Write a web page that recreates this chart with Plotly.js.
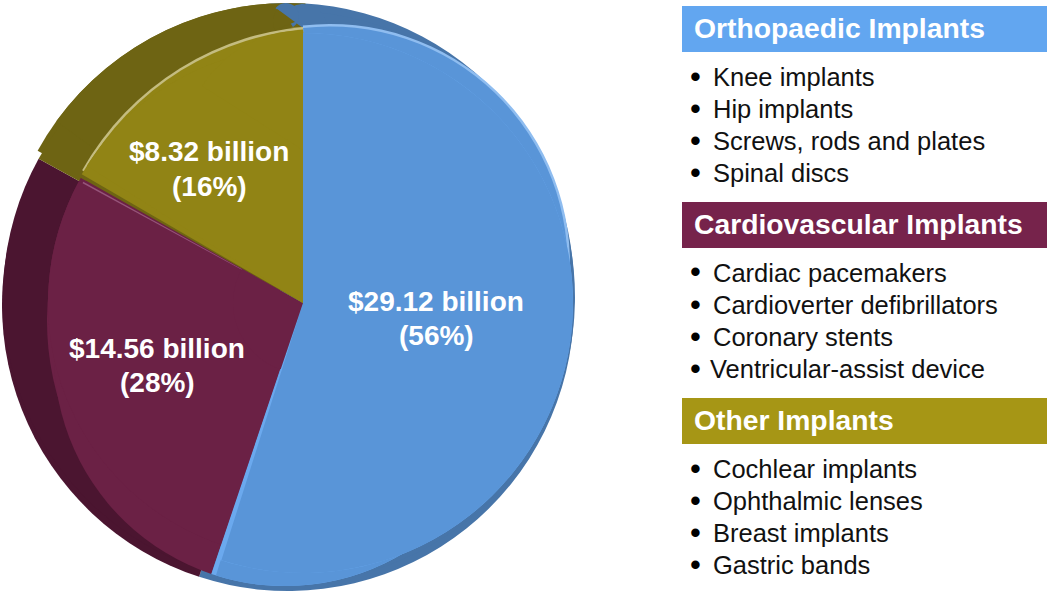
<!DOCTYPE html>
<html>
<head>
<meta charset="utf-8">
<script src="https://cdn.plot.ly/plotly-3.0.1.min.js"></script>
<style>html,body{margin:0;padding:0;background:#fff}</style>
</head>
<body>
<div id="chart" style="width:1050px;height:595px"></div>
<script>
// ---- data ----
const segments = ["Orthopaedic Implants", "Cardiovascular Implants", "Other Implants"];
const values = [29.12, 14.56, 8.32];
const shares = [56, 28, 16];
const orthopaedicItems = ["Knee implants", "Hip implants", "Screws, rods and plates", "Spinal discs"];
const cardiovascularItems = ["Cardiac pacemakers", "Cardioverter defibrillators", "Coronary stents", "Ventricular-assist device"];
const otherItems = ["Cochlear implants", "Ophthalmic lenses", "Breast implants", "Gastric bands"];

// ---- styles ----
const W = 1050, H = 595;
const CLEAR = "rgba(0,0,0,0)";
const face = ["#5995d8", "#6b2145", "#918415"];
const rim = ["#4775a9", "#4b1530", "#6e6413"];
const glow = ["#8fbdf0", "#6b2145", "#c4bc80"];
const sheen = ["#6ba9ee", "#96547a", "#6e6413"];
const headerFill = ["#62a6f0", "#76234b", "#a69615"];
const FONT = "Liberation Sans, Arial, sans-serif";
const only = (arr, ...idx) => arr.map((c, k) => idx.includes(k) ? c : CLEAR);

function pieLayer(cx, cy, r, rotation, colors) {
  return {
    type: "pie", values: values, labels: segments, sort: false, direction: "clockwise",
    rotation: rotation, textinfo: "none", hoverinfo: "skip", showlegend: false,
    domain: {x: [(cx - r) / W, (cx + r) / W], y: [1 - (cy + r) / H, 1 - (cy - r) / H]},
    marker: {colors: colors, line: {color: CLEAR, width: 0}}
  };
}

const traces = [
  // rim: darker silhouette of the bevelled pie
  pieLayer(288, 289, 286, -3.5, only(rim, 0, 2)),
  pieLayer(288, 305, 286, -3.5, only(rim, 0, 1)),
  pieLayer(289, 297, 286, -3.5, rim),
  pieLayer(288, 289, 286, 3.5, only(rim, 2)),
  pieLayer(303, 28, 24, -54, only(rim, 0)),
  pieLayer(286, 16, 13, -54, only(rim, 0)),
  pieLayer(295, 22, 22, -54, only(rim, 2)),
  // purple face
  pieLayer(321, 328, 281, 6, only(face, 1)),
  pieLayer(285, 355, 231, -3, only(face, 1)),
  pieLayer(303, 303, 255, -3, only(face, 1)),
  pieLayer(303, 303, 251, -3.5, only(sheen, 1)),
  pieLayer(303, 303, 255, -3.9, only(face, 1)),
  // gold face, outer part with its light bevel
  pieLayer(330, 310, 284.5, -3, only(glow, 2)),
  pieLayer(330, 310, 282, -3, only(face, 2)),
  // blue face: upper right, lower and main parts
  pieLayer(330, 264, 240, -6.5, only(glow, 0)),
  pieLayer(330, 264, 237.5, -6.5, only(face, 0)),
  pieLayer(285, 355, 231, -3, only(sheen, 0)),
  pieLayer(285, 355, 231, -4.2, only(face, 0)),
  pieLayer(303, 303, 270, -3, only(sheen, 0)),
  pieLayer(303, 303, 270, -4, only(face, 0)),
  // purple centre restored after the blue overlap
  pieLayer(303, 303, 70, -3, only(face, 1)),
  // gold face, inner part over the overlaps
  pieLayer(303, 303, 255, -3, only(sheen, 2)),
  pieLayer(303, 303, 256, -2.2, only(face, 2)),
  pieLayer(303, 303, 256, 0, only(face, 2)),
  pieLayer(303, 150, 119.5, 0, only(face, 2))
];

// ---- annotations and header bars ----
const px = x => x / W;
const py = y => 1 - y / H;
const annotations = [];
const shapes = [];
function addText(text, x, y, size, color, bold, anchor) {
  annotations.push({
    text: text, x: px(x), y: py(y), xref: "paper", yref: "paper", showarrow: false,
    xanchor: anchor || "left", yanchor: "middle", align: "center",
    font: {family: FONT, size: size, color: color, weight: bold ? 700 : 400}
  });
}

const groups = [orthopaedicItems, cardiovascularItems, otherItems];
const headerTops = [6, 202, 398];
groups.forEach((items, g) => {
  const top = headerTops[g];
  shapes.push({type: "rect", xref: "paper", yref: "paper", x0: px(682), x1: px(1047),
    y0: py(top + 46), y1: py(top), fillcolor: headerFill[g], line: {width: 0}, layer: "below"});
  addText(segments[g], 692, top + 22, 28.3, "#ffffff", true);
  items.forEach((item, i) => {
    const y = top + 71 + i * 32;
    addText("•", 695, y - 1, 31, "#000000", false, "center");
    addText(item, item.startsWith("Ventricular") ? 708 : 711, y, 25.5, "#111111", false);
  });
});

const labelPos = [[436, 301, 335], [157, 348, 382], [209, 151, 186]];
values.forEach((v, i) => {
  addText("$" + v.toFixed(2) + " billion", labelPos[i][0], labelPos[i][1], 28, "#ffffff", true, "center");
  addText("(" + shares[i] + "%)", labelPos[i][0], labelPos[i][2], 28, "#ffffff", true, "center");
});

Plotly.newPlot("chart", traces, {
  width: W, height: H, margin: {l: 0, r: 0, t: 0, b: 0},
  paper_bgcolor: "#ffffff", plot_bgcolor: "#ffffff",
  showlegend: false, annotations: annotations, shapes: shapes
}, {displayModeBar: false, staticPlot: true});
</script>
</body>
</html>
